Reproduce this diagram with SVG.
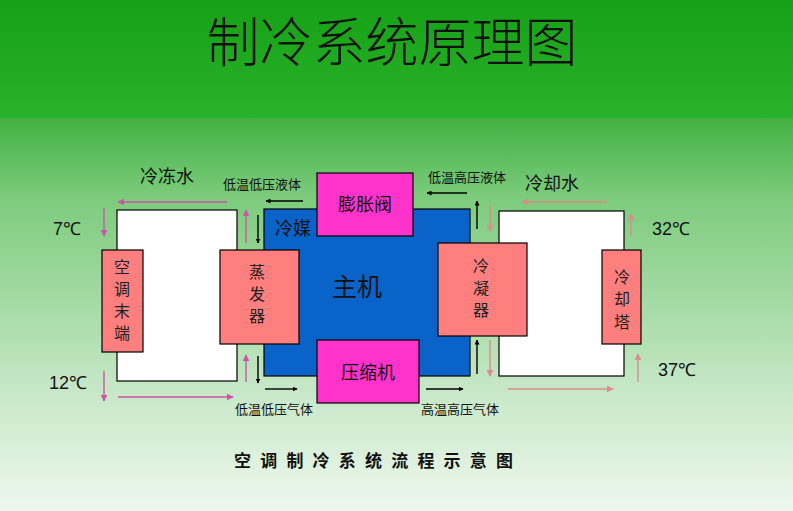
<svg xmlns="http://www.w3.org/2000/svg" width="793" height="511" viewBox="0 0 793 511">
<defs>
<linearGradient id="gTop" x1="0" y1="0" x2="0" y2="1">
<stop offset="0" stop-color="#16a116"/><stop offset="1" stop-color="#2ab22a"/>
</linearGradient>
<linearGradient id="gBot" x1="0" y1="0" x2="0" y2="1">
<stop offset="0" stop-color="#42b142"/><stop offset="0.2" stop-color="#7ccb7c"/><stop offset="0.7" stop-color="#c8e8c8"/><stop offset="1" stop-color="#eef8ee"/>
</linearGradient>
<marker id="mk" viewBox="0 0 10 10" refX="9" refY="5" markerWidth="5" markerHeight="5" orient="auto" markerUnits="userSpaceOnUse"><path d="M0,0 L10,5 L0,10 z" fill="#000"/></marker>
<marker id="mp" viewBox="0 0 10 10" refX="9" refY="5" markerWidth="7" markerHeight="7" orient="auto" markerUnits="userSpaceOnUse"><path d="M0,0 L10,5 L0,10 z" fill="#cc55a8"/></marker>
<marker id="ms" viewBox="0 0 10 10" refX="9" refY="5" markerWidth="7" markerHeight="7" orient="auto" markerUnits="userSpaceOnUse"><path d="M0,0 L10,5 L0,10 z" fill="#e08a8a"/></marker>
</defs>
<style>
text{font-family:"Noto Sans CJK SC","Liberation Sans",sans-serif;fill:#111;}
.box{stroke:#000;stroke-width:1.2;}
.pink{fill:#ff7f7f;}
.mag{fill:#ff33cc;}
.white{fill:#fff;}
.blk{stroke:#000;stroke-width:1.4;fill:none;marker-end:url(#mk);}
.pa{stroke:#cc55a8;stroke-width:1.4;fill:none;marker-end:url(#mp);}
.sa{stroke:#e08a8a;stroke-width:1.4;fill:none;marker-end:url(#ms);}
.lbl{font-size:18px;}
.sm{font-size:13px;}
.tmp{font-size:18px;font-family:"Liberation Sans",sans-serif;}
.vt{font-size:16px;text-anchor:middle;fill:#222;}
</style>
<rect x="0" y="0" width="793" height="118" fill="url(#gTop)"/>
<rect x="0" y="118" width="793" height="393" fill="url(#gBot)"/>
<text x="392" y="62" font-size="53" text-anchor="middle" font-family="Noto Sans CJK SC, sans-serif" font-weight="300" fill="#0a1a0a">制冷系统原理图</text>

<g id="left-loop"><rect class="box white" x="117" y="210" width="120" height="171"/></g>
<g id="right-loop"><rect class="box white" x="499" y="211" width="125" height="165"/></g>
<g id="host"><rect class="box" x="264" y="209" width="206" height="167" fill="#0a63c8"/>
<text x="357" y="296" font-size="25" text-anchor="middle" fill="#0d1a40">主机</text>
<text x="293" y="235" font-size="18" text-anchor="middle" fill="#0d1a40">冷媒</text></g>
<g id="ac-terminal"><rect class="box pink" x="102" y="250" width="41" height="102"/>
<text class="vt" x="122" y="273">空</text><text class="vt" x="122" y="295">调</text><text class="vt" x="122" y="317">末</text><text class="vt" x="122" y="339">端</text></g>
<g id="evaporator"><rect class="box pink" x="220" y="250" width="79" height="94"/>
<text class="vt" x="257" y="278">蒸</text><text class="vt" x="257" y="300">发</text><text class="vt" x="257" y="322">器</text></g>
<g id="condenser"><rect class="box pink" x="438" y="243" width="89" height="93"/>
<text class="vt" x="481" y="272">冷</text><text class="vt" x="481" y="294">凝</text><text class="vt" x="481" y="316">器</text></g>
<g id="cooling-tower"><rect class="box pink" x="602" y="250" width="39" height="94"/>
<text class="vt" x="622" y="283">冷</text><text class="vt" x="622" y="305">却</text><text class="vt" x="622" y="328">塔</text></g>
<g id="expansion-valve"><rect class="box mag" x="317" y="173" width="96" height="63"/>
<text class="lbl" x="365" y="211" text-anchor="middle">膨胀阀</text></g>
<g id="compressor"><rect class="box mag" x="317" y="340" width="102" height="63"/>
<text class="lbl" x="368" y="379" text-anchor="middle">压缩机</text></g>

<g id="connectors">
<line class="pa" x1="227" y1="202" x2="118" y2="202"/>
<line class="pa" x1="104" y1="208" x2="104" y2="236"/>
<line class="pa" x1="246" y1="243" x2="246" y2="210"/>
<line class="pa" x1="246" y1="382" x2="246" y2="355"/>
<line class="pa" x1="104" y1="371" x2="104" y2="401"/>
<line class="pa" x1="118" y1="397" x2="233" y2="397"/>
<line class="blk" x1="258" y1="215" x2="258" y2="243"/>
<line class="blk" x1="258" y1="356" x2="258" y2="383"/>
<line class="blk" x1="303" y1="201" x2="266" y2="201"/>
<line class="blk" x1="265" y1="389" x2="297" y2="389"/>
<line class="blk" x1="426" y1="389" x2="463" y2="389"/>
<line class="blk" x1="467" y1="193" x2="427" y2="193"/>
<line class="blk" x1="477" y1="229" x2="477" y2="201"/>
<line class="blk" x1="477" y1="374" x2="477" y2="340"/>
<line class="sa" x1="490" y1="205" x2="490" y2="231"/>
<line class="sa" x1="490" y1="340" x2="490" y2="376"/>
<line class="sa" x1="607" y1="202" x2="522" y2="202"/>
<line class="sa" x1="631" y1="236" x2="631" y2="214"/>
<line class="sa" x1="638" y1="382" x2="638" y2="354"/>
<line class="sa" x1="508" y1="389" x2="613" y2="389"/>
</g>

<text class="lbl" x="167" y="183" text-anchor="middle" fill="#1a3a1a">冷冻水</text>
<text class="lbl" x="552" y="190" text-anchor="middle" fill="#1a3a1a">冷却水</text>
<text class="sm" x="262" y="189" text-anchor="middle">低温低压液体</text>
<text class="sm" x="467" y="182" text-anchor="middle">低温高压液体</text>
<text class="sm" x="274" y="414" text-anchor="middle">低温低压气体</text>
<text class="sm" x="460" y="414" text-anchor="middle">高温高压气体</text>
<text class="tmp" x="53" y="235">7℃</text>
<text class="tmp" x="49" y="389">12℃</text>
<text class="tmp" x="652" y="235">32℃</text>
<text class="tmp" x="658" y="376">37℃</text>
<text x="234" y="467" font-size="17" font-weight="bold" letter-spacing="9.2" fill="#111">空调制冷系统流程示意图</text>
</svg>
